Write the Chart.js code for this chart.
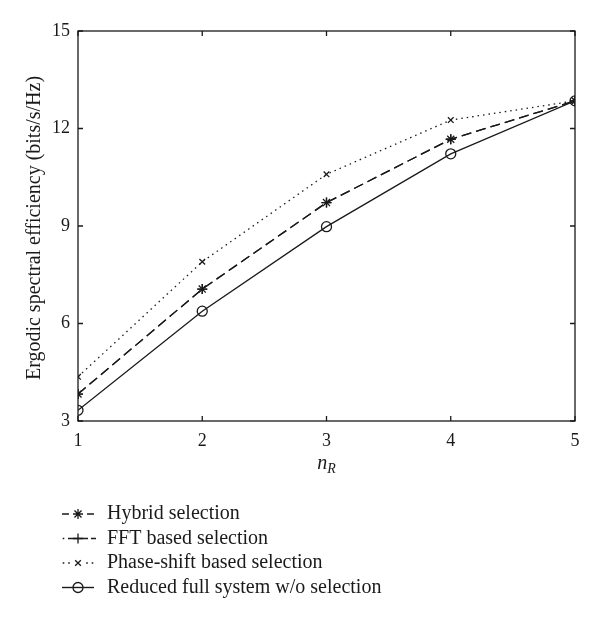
<!DOCTYPE html>
<html>
<head>
<meta charset="utf-8">
<script src="https://cdn.jsdelivr.net/npm/chart.js@4.4.1/dist/chart.umd.min.js"></script>
<style>
html,body{margin:0;padding:0;background:#fff;}
#wrap{width:600px;height:621px;position:relative;}
</style>
</head>
<body>
<div id="wrap"><canvas id="c" width="600" height="621"></canvas></div>
<script>
const nR = [1, 2, 3, 4, 5];
const hybrid = [3.83, 7.06, 9.72, 11.67, 12.85];
const fft = [3.83, 7.06, 9.72, 11.67, 12.85];
const phaseShift = [4.36, 7.90, 10.59, 12.26, 12.85];
const reducedFull = [3.33, 6.38, 8.98, 11.22, 12.85];
const yTicks = [3, 6, 9, 12, 15];
const seriesNames = ['Hybrid selection', 'FFT based selection', 'Phase-shift based selection', 'Reduced full system w/o selection'];

const FONT = "'Liberation Serif', 'DejaVu Serif', serif";
const INK = '#1a1a1a';

function pts(arr){ return nR.map((x,i)=>({x:x, y:arr[i]})); }

// FFT curve coincides with the hybrid curve, so its plotted dashes follow the hybrid ones
const styles = [
  {dash:[10,5], marker:'star', r:5},
  {dash:[10,5], marker:'cross', r:5},
  {dash:[1.5,4], marker:'crossRot', r:4},
  {dash:[], marker:'circle', r:5}
];
const seriesData = [hybrid, fft, phaseShift, reducedFull];

const datasets = seriesData.map((d,i)=>({
  label: seriesNames[i],
  data: pts(d),
  borderColor: INK,
  backgroundColor: 'rgba(0,0,0,0)',
  borderWidth: 1.3,
  borderDash: styles[i].dash,
  pointStyle: styles[i].marker,
  pointRadius: styles[i].r,
  pointBorderWidth: 1.3,
  pointBorderColor: INK,
  pointBackgroundColor: 'rgba(0,0,0,0)',
  tension: 0,
  fill: false
}));

function drawMarker(ctx, style, x, y, r){
  ctx.save();
  ctx.setLineDash([]);
  ctx.beginPath();
  if(style==='circle'){
    ctx.arc(x,y,r,0,Math.PI*2);
  } else if(style==='cross' || style==='star'){
    ctx.moveTo(x-r,y); ctx.lineTo(x+r,y);
    ctx.moveTo(x,y-r); ctx.lineTo(x,y+r);
  }
  if(style==='crossRot' || style==='star'){
    const d = r*Math.SQRT1_2;
    ctx.moveTo(x-d,y-d); ctx.lineTo(x+d,y+d);
    ctx.moveTo(x-d,y+d); ctx.lineTo(x+d,y-d);
  }
  ctx.stroke();
  ctx.restore();
}

function seg(ctx, x1, x2, y){ ctx.moveTo(x1,y); ctx.lineTo(x2,y); }
function dot(ctx, x, y){ ctx.moveTo(x-0.8,y); ctx.lineTo(x+0.8,y); }

const decor = {
  id:'decor',
  afterDraw(chart){
    const ctx = chart.ctx;
    const a = chart.chartArea;
    const xs = chart.scales.x, ys = chart.scales.y;
    ctx.save();
    ctx.strokeStyle = INK;
    ctx.lineWidth = 1.3;
    ctx.setLineDash([]);
    ctx.strokeRect(a.left, a.top, a.right-a.left, a.bottom-a.top);
    const tl = 5;
    ctx.beginPath();
    nR.forEach(v=>{
      const px = xs.getPixelForValue(v);
      ctx.moveTo(px, a.bottom); ctx.lineTo(px, a.bottom-tl);
      ctx.moveTo(px, a.top); ctx.lineTo(px, a.top+tl);
    });
    yTicks.forEach(v=>{
      const py = ys.getPixelForValue(v);
      ctx.moveTo(a.left, py); ctx.lineTo(a.left+tl, py);
      ctx.moveTo(a.right, py); ctx.lineTo(a.right-tl, py);
    });
    ctx.stroke();

    // axis titles
    ctx.fillStyle = INK;
    ctx.font = "20px " + FONT;
    ctx.textAlign = 'center';
    ctx.textBaseline = 'middle';
    ctx.save();
    ctx.translate(35, 228);
    ctx.rotate(-Math.PI/2);
    ctx.fillText('Ergodic spectral efficiency (bits/s/Hz)', 0, 0);
    ctx.restore();

    const cx = (a.left+a.right)/2;
    ctx.textAlign = 'left';
    ctx.textBaseline = 'alphabetic';
    ctx.font = "italic 20px " + FONT;
    const nW = ctx.measureText('n').width;
    ctx.font = "italic 14px " + FONT;
    const rW = ctx.measureText('R').width;
    const sx = cx - (nW+rW)/2;
    ctx.font = "italic 20px " + FONT;
    ctx.fillText('n', sx, 469);
    ctx.font = "italic 14px " + FONT;
    ctx.fillText('R', sx+nW, 473);

    // legend
    const rows = [514, 538.5, 563, 587.5];
    ctx.font = "20px " + FONT;
    ctx.textBaseline = 'middle';
    rows.forEach((ry,i)=>{
      ctx.save();
      ctx.lineWidth = 1.4;
      ctx.setLineDash([]);
      ctx.beginPath();
      if(i===0){ seg(ctx,62,69,ry); seg(ctx,87,94,ry); }
      else if(i===1){ dot(ctx,63.5,ry); seg(ctx,68,88,ry); seg(ctx,91,96,ry); }
      else if(i===2){ dot(ctx,63.5,ry); dot(ctx,69,ry); dot(ctx,87,ry); dot(ctx,92.5,ry); }
      else { seg(ctx,62,94,ry); }
      ctx.stroke();
      ctx.restore();
      drawMarker(ctx, styles[i].marker, 78, ry, styles[i].r);
      ctx.fillText(seriesNames[i], 107, ry);
    });
    ctx.restore();
  }
};

new Chart(document.getElementById('c'), {
  type:'line',
  data:{datasets},
  options:{
    responsive:false,
    animation:false,
    layout:{padding:{left:0, top:31, right:25, bottom:0}},
    plugins:{legend:{display:false}, tooltip:{enabled:false}},
    scales:{
      x:{
        type:'linear', min:1, max:5,
        afterFit(s){ s.height = 200; },
        afterBuildTicks(s){ s.ticks = nR.map(v=>({value:v})); },
        grid:{display:false, drawTicks:false},
        border:{display:false},
        ticks:{font:{family:FONT, size:18}, color:INK, padding:9, maxRotation:0}
      },
      y:{
        min:3, max:15,
        afterFit(s){ s.width = 78; },
        afterBuildTicks(s){ s.ticks = yTicks.map(v=>({value:v})); },
        grid:{display:false, drawTicks:false},
        border:{display:false},
        ticks:{font:{family:FONT, size:18}, color:INK, padding:8}
      }
    }
  },
  plugins:[decor]
});
</script>
</body>
</html>
